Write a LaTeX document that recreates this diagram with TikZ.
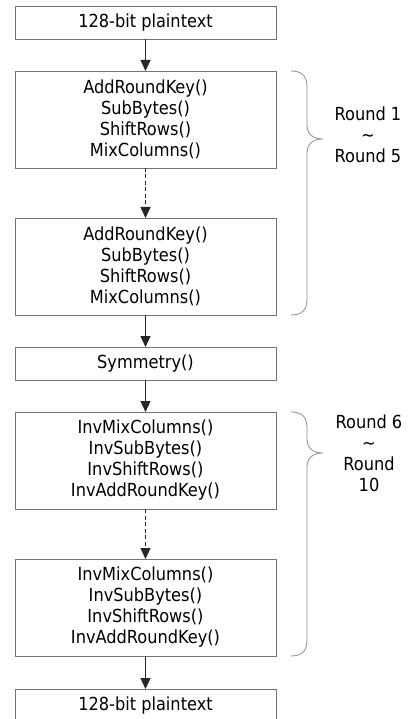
\documentclass[tikz,border=0pt]{standalone}
\usepackage{fontspec}
\setmainfont{DejaVu Sans Condensed}
\usetikzlibrary{arrows.meta,positioning}

\begin{document}
\begin{tikzpicture}[
  x=1pt, y=1pt,
  every node/.style={font=\fontsize{18}{21}\selectfont},
  stage/.style={draw=black!55, line width=0.9pt, minimum width=261pt, minimum height=97pt, align=center, inner sep=0pt, outer sep=0pt},
  short/.style={stage, minimum height=33pt},
  flow/.style={draw=black!85, line width=0.9pt, -{Triangle[length=11pt,width=10pt]}},
  skip/.style={flow, dash pattern=on 4pt off 2.5pt},
  brace/.style={draw=black!45, line width=0.8pt},
  rounds/.style={align=center},
]
\useasboundingbox (0,0) rectangle (407,-719);
\node[short] (p0) at (145.5,-22.5) {128-bit plaintext};
\node[stage, below=32pt of p0] (r1) {AddRoundKey()\\SubBytes()\\ShiftRows()\\MixColumns()};
\node[stage, below=50pt of r1] (r5) {AddRoundKey()\\SubBytes()\\ShiftRows()\\MixColumns()};
\node[short, below=32pt of r5] (sym) {Symmetry()};
\node[stage, below=32pt of sym] (r6) {InvMixColumns()\\InvSubBytes()\\InvShiftRows()\\InvAddRoundKey()};
\node[stage, below=50pt of r6] (r10) {InvMixColumns()\\InvSubBytes()\\InvShiftRows()\\InvAddRoundKey()};
\node[short, below=33pt of r10] (p1) {128-bit plaintext};
\draw[flow] (p0) -- (r1);
\draw[skip] (r1) -- (r5);
\draw[flow] (r5) -- (sym);
\draw[flow] (sym) -- (r6);
\draw[skip] (r6) -- (r10);
\draw[flow] (r10) -- (p1);
% braces for the two groups of rounds
\draw[brace] (291,-71) .. controls (302,-71) and (307,-76) .. (307,-87) -- (307,-125)
  .. controls (307,-134) and (313,-139) .. (323,-139)
  .. controls (313,-139) and (307,-144) .. (307,-153) -- (307,-299)
  .. controls (307,-310) and (302,-315) .. (291,-315);
\draw[brace] (291,-412) .. controls (302,-412) and (307,-417) .. (307,-428) -- (307,-439)
  .. controls (307,-448) and (313,-453) .. (323,-453)
  .. controls (313,-453) and (307,-458) .. (307,-467) -- (307,-640)
  .. controls (307,-651) and (302,-656) .. (291,-656);
\node[rounds] (g1) at (368,-135) {Round 1\\\textasciitilde\\Round 5};
\node[rounds] (g2) at (369,-453.5) {Round 6\\\textasciitilde\\Round\\10};
\end{tikzpicture}
\end{document}
